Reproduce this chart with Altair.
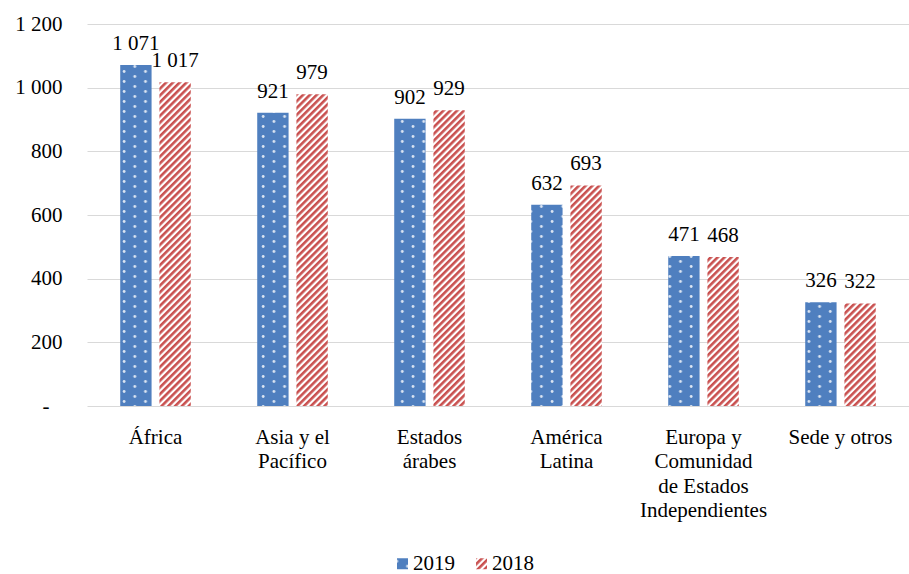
import altair as alt
import pandas as pd
import jinja2

# ---------------- data ----------------
categories = [
    "África",
    "Asia y el|Pacífico",
    "Estados|árabes",
    "América|Latina",
    "Europa y|Comunidad|de Estados|Independientes",
    "Sede y otros",
]
series = ["2019", "2018"]
values_2019 = [1071, 921, 902, 632, 471, 326]
values_2018 = [1017, 979, 929, 693, 468, 322]
y_ticks = [0, 200, 400, 600, 800, 1000, 1200]

rows = []
for c, a, b in zip(categories, values_2019, values_2018):
    rows.append({"region": c, "year": "2019", "value": a})
    rows.append({"region": c, "year": "2018", "value": b})
df = pd.DataFrame(rows)

FONT = "Liberation Serif"
FS = 21
EMBED = {"renderer": "svg", "actions": False}

x_enc = alt.X(
    "region:N",
    sort=categories,
    title=None,
    scale=alt.Scale(paddingInner=0.485, paddingOuter=0.2425),
    axis=alt.Axis(
        labelExpr="split(datum.label, '|')",
        labelAngle=0,
        labelFont=FONT,
        labelFontSize=FS,
        labelColor="#000000",
        labelLineHeight=24.5,
        labelPadding=20,
        labelLimit=400,
        ticks=False,
        domain=False,
        grid=False,
    ),
)
xo_enc = alt.XOffset("year:N", sort=series, scale=alt.Scale(paddingInner=0.2))
y_enc = alt.Y(
    "value:Q",
    title=None,
    scale=alt.Scale(domain=[0, 1200]),
    axis=alt.Axis(
        values=y_ticks,
        labelExpr="datum.value == 0 ? '-' : replace(format(datum.value, ','), ',', ' ')",
        labelFont=FONT,
        labelFontSize=FS,
        labelColor="#000000",
        labelPadding={"condition": {"test": "datum.value == 0", "value": 38}, "value": 25},
        grid=True,
        gridColor="#d9d9d9",
        gridWidth=1,
        domain=False,
        ticks=False,
    ),
)

bars = alt.Chart().mark_bar().encode(
    x=x_enc,
    xOffset=xo_enc,
    y=y_enc,
    color=alt.Color(
        "year:N",
        sort=series,
        scale=alt.Scale(domain=series, range=["url(#dots)", "url(#stripes)"]),
        legend=alt.Legend(
            title=None,
            orient="none",
            direction="horizontal",
            columns=2,
            legendX=305,
            legendY=529,
            padding=0,
            symbolType="square",
            symbolSize=121,
            symbolStrokeWidth=0,
            labelFont=FONT,
            labelFontSize=FS,
            labelColor="#000000",
            labelOffset=0,
            columnPadding=16,
        ),
    ),
)

labels = alt.Chart().transform_calculate(
    lab="replace(format(datum.value, ','), ',', ' ')"
).mark_text(
    dy=-15, baseline="alphabetic", font=FONT, fontSize=FS, color="#000000"
).encode(
    x=alt.X("region:N", sort=categories),
    xOffset=alt.XOffset("year:N", sort=series),
    y=alt.Y("value:Q"),
    text="lab:N",
)

chart = alt.layer(bars, labels, data=df).properties(
    width=822,
    height=382,
    padding={"left": 87, "top": 24, "right": 0, "bottom": 168},
    autosize=alt.AutoSizeParams(type="none"),
).configure_view(stroke=None)

DEFS = """<svg width="0" height="0" style="position:absolute">
<defs>
<pattern id="dots" patternUnits="userSpaceOnUse" width="21.4" height="10">
<rect width="21.4" height="10" fill="#4f7fbf"/>
<circle cx="5" cy="2.5" r="1.4" fill="#ffffff" fill-opacity="0.8"/>
<circle cx="15.7" cy="7.5" r="1.4" fill="#ffffff" fill-opacity="0.8"/>
</pattern>
<pattern id="stripes" patternUnits="userSpaceOnUse" width="4.8" height="4.8" patternTransform="rotate(45)">
<rect width="4.8" height="4.8" fill="#ffffff"/>
<rect width="2.6" height="4.8" fill="#c9504f"/>
</pattern>
</defs>
</svg>"""

html = chart.to_html(embed_options=EMBED)
html = html.replace("<body>", "<body>\n" + DEFS, 1)
template = jinja2.Template("{% raw %}" + html + "{% endraw %}")

chart.save("out.html", embed_options=EMBED, template=template)
